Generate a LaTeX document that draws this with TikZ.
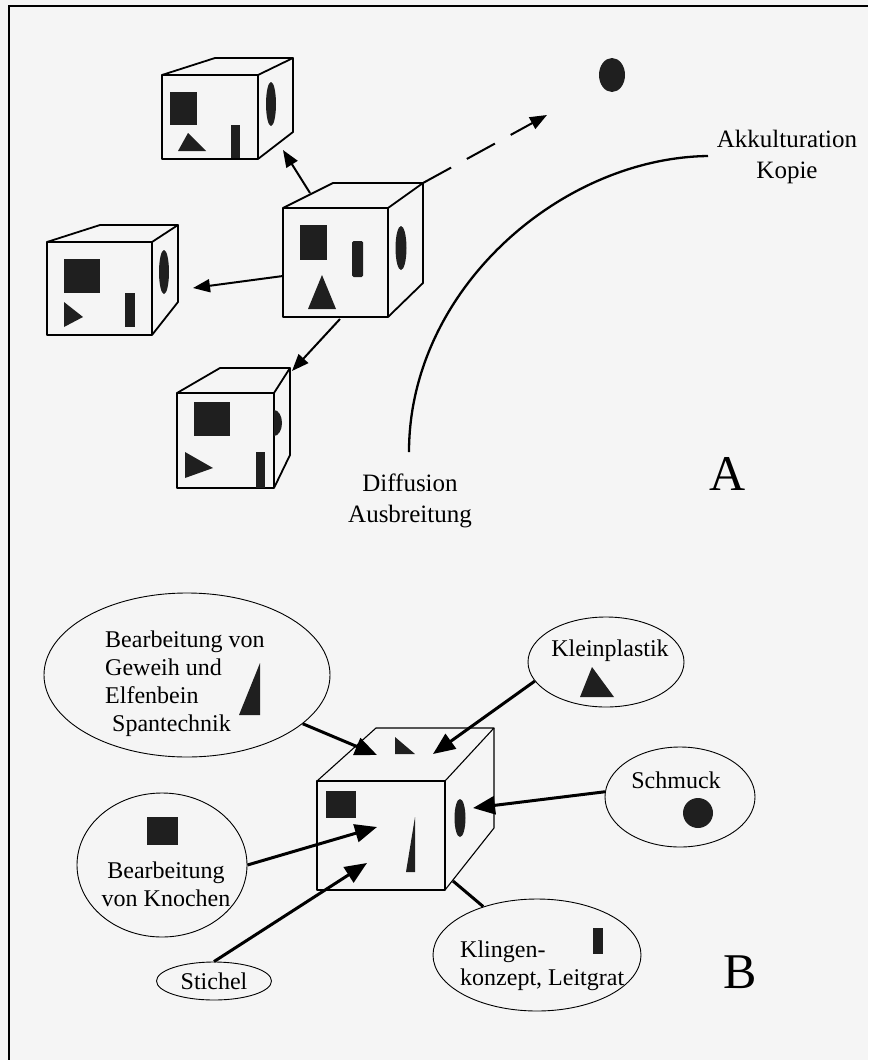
\documentclass[tikz,border=0pt]{standalone}
\usepackage{fontspec}
\setmainfont{Liberation Serif}
\usetikzlibrary{arrows.meta}
\usetikzlibrary{shapes.geometric}

\tikzset{
  dunkel/.style={fill=black!88},
  pfeil/.style={line width=2pt, -{Triangle[length=17pt,width=13pt]}},
  dickpfeil/.style={line width=3pt, -{Triangle[length=22pt,width=18pt]}},
  feld/.style={draw, ellipse, line width=0.9pt, inner sep=0pt},
  gross/.style={font=\fontsize{25}{31}\selectfont},
  klein/.style={font=\fontsize{24}{28}\selectfont},
  buchstabe/.style={font=\fontsize{50}{50}\selectfont},
}

\begin{document}
\begin{tikzpicture}[x=1pt,y=-1pt]

    \useasboundingbox[fill=black!4] (0,0) rectangle (868,1060);
    
    % Rahmen
    \draw[line width=1.5pt] (9,1060) -- (9,6) -- (868,6);
    
    % Wuerfel: vorne (xa,ya)-(xb,yb), hinten links xl, hinten rechts xr, hinten oben yt, hinten unten yu
    \foreach \n/\xa/\ya/\xb/\yb/\xl/\xr/\yt/\yu/\lw in {w1/162/75/258/159/215/293/58/132/1.8,
                                                        w2/47/242/152/335/100/178/225/302/1.8,
                                                        w3/177/393/274/488/220/290/368/455/1.8,
                                                        w4/283/208/388/317/333/423/183/283/1.8,
                                                        w5/317/781/445/890/376/494/728/828/1.1}
    {
        \draw[line width=\lw pt, line join=round] (\xa,\ya) rectangle (\xb,\yb);
        \draw[line width=\lw pt, line join=round] (\xa,\ya) -- (\xl,\yt) -- (\xr,\yt) -- (\xb,\ya);
        \draw[line width=\lw pt, line join=round] (\xr,\yt) -- (\xr,\yu) -- (\xb,\yb);
        \coordinate (\n) at (\xr,\yt);
    }
    
    % Wuerfel 1
    \fill[dunkel] (170,92) rectangle (197,125);
    \fill[dunkel] (178,151) -- (188,133) -- (206,151) -- cycle;
    \fill[dunkel] (231,125) rectangle (240,158);
    \fill[dunkel] (271,104) ellipse (5 and 22);
    
    % Wuerfel 2
    \fill[dunkel] (64,259) rectangle (100,293);
    \fill[dunkel] (64,302) -- (83,317) -- (64,327) -- cycle;
    \fill[dunkel] (125,293) rectangle (135,327);
    \fill[dunkel] (164,272) ellipse (5 and 22);
    
    % Wuerfel 3
    \fill[dunkel] (194,402) rectangle (230,436);
    \fill[dunkel] (185,452) -- (213,468) -- (185,478) -- cycle;
    \fill[dunkel] (256,452) rectangle (265,488);
    \begin{scope}
        \clip (274,368) rectangle (300,490);
        \fill[dunkel] (274,423) ellipse (8 and 13);
    \end{scope}
    
    % Wuerfel 4
    \fill[dunkel] (300,225) rectangle (327,260);
    \fill[dunkel, rounded corners=1.5pt] (352,241) rectangle (363,277);
    \fill[dunkel] (308,309) -- (322,275) -- (336,309) -- cycle;
    \fill[dunkel] (401,248) ellipse (5.5 and 22);
    
    % Punkt
    \fill[dunkel] (612,75) ellipse (13 and 17);
    
    % Pfeile A
    \coordinate (m1) at (310,193);
    \coordinate (z1) at (283,150);
    \coordinate (m2) at (283,276);
    \coordinate (z2) at (193,288);
    \coordinate (m3) at (340,319);
    \coordinate (z3) at (292,371);
    \coordinate (punkt) at (547,115);
    
    \draw[pfeil] (m1) -- (z1);
    \draw[pfeil] (m2) -- (z2);
    \draw[pfeil] (m3) -- (z3);
    \draw[pfeil, dash pattern=on 32pt off 18pt] (w4) -- (punkt);
    
    % Bogen
    \coordinate (bogenU) at (409,452);
    \coordinate (bogenO) at (708,156);
    \draw[line width=2.3pt] (bogenU) .. controls (409,290) and (560,158) .. (bogenO);
    
    \node[gross, align=center] (akk) at (787,157) {Akkulturation\\Kopie};
    \node[gross, align=center] (diff) at (410,501) {Diffusion\\Ausbreitung};
    \node[buchstabe] (A) at (728,474) {A};
    
    % Teil B
    \node[feld, minimum width=286pt, minimum height=164pt] (geweih) at (187,675) {};
    \node[klein, align=left, anchor=north west, inner sep=0pt] (geweihtext) at (105,631) {Bearbeitung von\\Geweih und\\Elfenbein\\\hspace*{7pt}Spantechnik};
    \fill[dunkel] (239,715) -- (260,663) -- (260,715) -- cycle;
    
    \node[feld, minimum width=170pt, minimum height=144pt] (knochen) at (162,865) {};
    \fill[dunkel] (147,817) rectangle (178,845);
    \node[klein, align=center, inner sep=0pt] (knochentext) at (166,884) {Bearbeitung\\von Knochen};
    
    \node[feld, klein, minimum width=115pt, minimum height=38pt] (stichel) at (214,981) {Stichel};
    
    \node[feld, minimum width=156pt, minimum height=90pt] (plastik) at (606,662) {};
    \node[klein, inner sep=0pt] (plastiktext) at (610,651) {Kleinplastik};
    \fill[dunkel] (580,697) -- (592,667) -- (614,697) -- cycle;
    
    \node[feld, minimum width=150pt, minimum height=100pt] (schmuck) at (680,797) {};
    \node[klein, inner sep=0pt] (schmucktext) at (676,780) {Schmuck};
    \fill[dunkel] (698,813) circle (15);
    
    \node[feld, minimum width=208pt, minimum height=112pt] (klingen) at (537,955) {};
    \node[klein, align=left, anchor=north west, inner sep=0pt] (klingentext) at (460,941) {Klingen-\\konzept, Leitgrat};
    \fill[dunkel] (593,928) rectangle (603,954);
    
    % Wuerfel 5
    \fill[dunkel] (395,737) -- (415,754) -- (395,754) -- cycle;
    \fill[dunkel] (326,791) rectangle (356,818);
    \fill[dunkel] (406,872) -- (415,817) -- (415,872) -- cycle;
    \fill[dunkel] (460,818) ellipse (5.5 and 19);
    
    % Pfeile B
    \coordinate (b1) at (377,755);
    \coordinate (b2) at (433,754);
    \coordinate (b3) at (473,808);
    \coordinate (b4) at (377,827);
    \coordinate (b5) at (367,863);
    \coordinate (b6) at (453,881);
    
    \draw[dickpfeil] (geweih) -- (b1);
    \draw[dickpfeil] (plastik.195) -- (b2);
    \draw[dickpfeil] (schmuck.176) -- (b3);
    \draw[dickpfeil] (knochen.east) -- (b4);
    \draw[dickpfeil] (stichel.north) -- (b5);
    \draw[line width=3pt] (klingen.138) -- (b6);
    
    \node[buchstabe] (B) at (740,972) {B};

\end{tikzpicture}
\end{document}
